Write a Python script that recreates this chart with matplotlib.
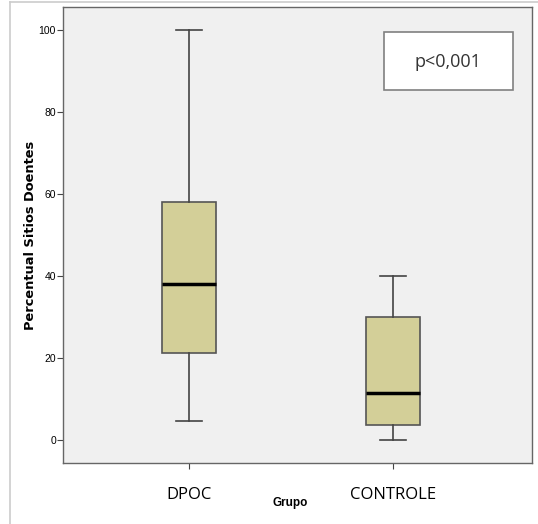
import matplotlib
matplotlib.use("Agg")
import matplotlib.pyplot as plt
from matplotlib.patches import Rectangle

# group stats
groups = ["DPOC", "CONTROLE"]
whislo = [4.6, 0.0]
q1 = [21.2, 3.6]
med = [38.0, 11.5]
q3 = [58.0, 30.0]
whishi = [100.0, 40.0]

stats = []
for i, g in enumerate(groups):
    stats.append({"label": g, "whislo": whislo[i], "q1": q1[i], "med": med[i],
                  "q3": q3[i], "whishi": whishi[i], "fliers": []})

narrow = ["Liberation Sans Narrow", "Liberation Sans", "DejaVu Sans"]

fig = plt.figure(figsize=(5.38, 5.24), dpi=100)
W, H = 538, 524
ax = fig.add_axes([63 / W, 1 - 463 / H, (532 - 63) / W, (463 - 7) / H])
ax.set_facecolor("#F0F0F0")

ax.bxp(stats, positions=[1, 2], widths=0.265, patch_artist=True,
       showfliers=False,
       boxprops=dict(facecolor="#D3CF98", edgecolor="#555555", linewidth=1.2),
       medianprops=dict(color="black", linewidth=2.5),
       whiskerprops=dict(color="#444444", linewidth=1.2),
       capprops=dict(color="#444444", linewidth=1.2),
       capwidths=0.13)

ax.set_xlim(0.382, 2.68)
ax.set_ylim(-5.6, 105.6)
ax.set_yticks([0, 20, 40, 60, 80, 100])
ax.tick_params(axis="y", labelsize=7.5, length=4, color="#444444", pad=1)
ax.tick_params(axis="x", labelsize=12, length=4, color="#444444", pad=13)
for t in ax.get_yticklabels():
    t.set_fontfamily(narrow)
ax.set_xticks([1, 2])
ax.set_xticklabels(groups, fontfamily="Open Sans")
for s in ax.spines.values():
    s.set_color("#666666")
    s.set_linewidth(1.0)

ax.set_ylabel("Percentual Sitios Doentes", fontsize=9.4, fontweight="bold",
              fontfamily="DejaVu Sans")
ax.yaxis.set_label_coords((37 - 63) / (532 - 63), (463 - 235) / (463 - 7))
fig.text(290 / W, 1 - 503 / H, "Grupo", fontsize=8.5, fontweight="bold",
         ha="center", va="center", fontfamily=narrow)

# p-value box
fig.patches.append(Rectangle((384 / W, 1 - 90 / H), (513 - 384) / W, (90 - 32) / H,
                             transform=fig.transFigure, facecolor="white",
                             edgecolor="#808080", linewidth=1.2))
fig.text(448 / W, 1 - 62 / H, "p<0,001", fontsize=13, color="#333333",
         ha="center", va="center", fontfamily="Open Sans")

# outer frame lines
fig.add_artist(plt.Line2D([10 / W, 10 / W], [0, 1 - 2 / H], transform=fig.transFigure,
                          color="#CCCCCC", linewidth=1.2))
fig.add_artist(plt.Line2D([10 / W, 1], [1 - 2 / H, 1 - 2 / H], transform=fig.transFigure,
                          color="#CCCCCC", linewidth=1.2))

fig.savefig("out.png", dpi=100)
